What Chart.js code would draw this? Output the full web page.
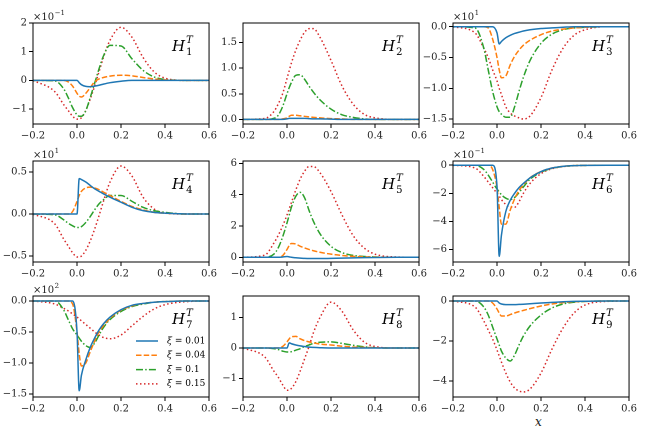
<!DOCTYPE html>
<html><head><meta charset="utf-8">
<script src="https://cdn.jsdelivr.net/npm/chart.js@4/dist/chart.umd.min.js"></script>
<style>
body{margin:0;width:664px;height:443px;background:#fff;position:relative;overflow:hidden}
canvas{position:absolute}
#xl{position:absolute;left:535px;top:415px;font:italic 12px "DejaVu Serif",serif;color:#222}
</style></head><body>
<div id="xl">x</div>
<script>
const X=[-0.2,-0.1,-0.06,-0.04,-0.02,0,0.01,0.02,0.04,0.06,0.08,0.1,0.12,0.15,0.2,0.25,0.3,0.35,0.4,0.5,0.6];
const xiLabels=["0.01","0.04","0.1","0.15"];
const H1=[[0,0,0,0,0,0,-0.08,-0.15,-0.21,-0.22,-0.2,-0.17,-0.13,-0.08,-0.03,0,0,0,0,0,0],
[0,0,0,-0.05,-0.2,-0.45,-0.55,-0.58,-0.45,-0.25,-0.05,0.05,0.1,0.15,0.18,0.16,0.1,0.05,0.02,0,0],
[0,-0.02,-0.3,-0.6,-0.95,-1.2,-1.25,-1.25,-1.05,-0.6,-0.1,0.4,0.85,1.22,1.2,0.75,0.35,0.12,0.03,0,0],
[0,-0.4,-0.85,-1.05,-1.25,-1.35,-1.35,-1.3,-1.05,-0.65,-0.2,0.3,0.8,1.4,1.85,1.5,0.8,0.3,0.08,0,0]];
const H2=[[0,0,0,0,0,0.01,0.02,0.02,0.02,0.02,0.02,0.015,0.01,0.01,0.005,0,0,0,0,0,0],
[0,0,0,0,0.01,0.03,0.06,0.08,0.08,0.07,0.06,0.05,0.04,0.03,0.015,0.01,0,0,0,0,0],
[0,0,0.02,0.08,0.25,0.5,0.62,0.72,0.86,0.87,0.78,0.65,0.53,0.38,0.2,0.09,0.04,0.01,0,0,0],
[0,0.02,0.15,0.3,0.5,0.8,0.95,1.1,1.35,1.55,1.7,1.77,1.77,1.6,1.15,0.65,0.3,0.1,0.03,0,0]];
const H3=[[0,0,0,0,0,-0.1,-0.28,-0.24,-0.18,-0.14,-0.11,-0.09,-0.07,-0.05,-0.03,-0.02,-0.01,0,0,0,0],
[0,0,0,-0.02,-0.2,-0.5,-0.7,-0.83,-0.8,-0.62,-0.48,-0.38,-0.3,-0.22,-0.13,-0.07,-0.04,-0.02,-0.01,0,0],
[0,-0.02,-0.35,-0.7,-1.05,-1.3,-1.38,-1.42,-1.47,-1.47,-1.3,-1.05,-0.82,-0.55,-0.27,-0.12,-0.05,-0.02,-0.01,0,0],
[0,-0.1,-0.35,-0.5,-0.7,-0.88,-1.0,-1.1,-1.3,-1.4,-1.45,-1.48,-1.5,-1.45,-1.15,-0.7,-0.35,-0.14,-0.05,0,0]];
const H4=[[0,0,0,0,0,0,0.42,0.41,0.38,0.34,0.3,0.27,0.24,0.2,0.14,0.08,0.04,0.02,0.01,0,0],
[0,0,0,0,0.03,0.15,0.22,0.27,0.31,0.32,0.31,0.29,0.26,0.22,0.15,0.09,0.05,0.02,0.01,0,0],
[0,-0.01,-0.07,-0.11,-0.14,-0.16,-0.16,-0.15,-0.1,-0.03,0.05,0.12,0.17,0.22,0.22,0.15,0.08,0.04,0.02,0,0],
[0,-0.12,-0.3,-0.38,-0.46,-0.51,-0.51,-0.5,-0.43,-0.32,-0.18,-0.02,0.15,0.38,0.57,0.45,0.2,0.06,0.01,0,0]];
const H5=[[0,0,0,0,0.02,0.05,0.03,0,-0.03,-0.05,-0.07,-0.08,-0.08,-0.08,-0.07,-0.05,-0.04,-0.02,-0.01,0,0],
[0,0,0,0,0.1,0.5,0.75,0.88,0.85,0.7,0.6,0.5,0.42,0.32,0.2,0.12,0.06,0.03,0.01,0,0],
[0,0,0.2,0.6,1.3,2.2,2.7,3.2,3.9,4.15,3.8,3.0,2.3,1.5,0.7,0.3,0.12,0.05,0.02,0,0],
[0,0.15,0.9,1.4,2.0,2.7,3.1,3.5,4.3,5.0,5.5,5.8,5.8,5.4,4.2,2.7,1.4,0.6,0.2,0.02,0]];
const H6=[[0,0,0,0,0,-1.5,-6.5,-5.0,-3.3,-2.5,-2.0,-1.6,-1.3,-0.9,-0.45,-0.2,-0.08,-0.03,-0.01,0,0],
[0,0,0,0,-0.3,-1.6,-3.0,-4.2,-4.2,-3.2,-2.4,-1.8,-1.4,-0.9,-0.45,-0.2,-0.08,-0.03,-0.01,0,0],
[0,0,-0.3,-0.7,-1.2,-1.7,-1.9,-2.1,-2.35,-2.45,-2.3,-1.95,-1.55,-1.0,-0.5,-0.22,-0.09,-0.03,-0.01,0,0],
[0,-0.2,-0.8,-1.2,-1.6,-2.0,-2.2,-2.45,-2.8,-3.0,-3.0,-2.6,-2.0,-1.3,-0.6,-0.25,-0.1,-0.04,-0.01,0,0]];
const H7=[[0,0,0,0,0,-0.5,-1.45,-1.2,-0.95,-0.75,-0.6,-0.47,-0.37,-0.26,-0.14,-0.07,-0.04,-0.02,-0.01,0,0],
[0,0,0,0,-0.05,-0.5,-0.85,-1.05,-1.0,-0.82,-0.65,-0.5,-0.4,-0.28,-0.15,-0.08,-0.04,-0.02,-0.01,0,0],
[0,0,-0.15,-0.3,-0.45,-0.55,-0.6,-0.65,-0.72,-0.75,-0.68,-0.55,-0.43,-0.3,-0.17,-0.09,-0.05,-0.02,-0.01,0,0],
[0,-0.05,-0.12,-0.16,-0.21,-0.26,-0.29,-0.32,-0.38,-0.44,-0.5,-0.55,-0.59,-0.61,-0.55,-0.4,-0.25,-0.13,-0.06,-0.01,0]];
const H8=[[0,0,0,0,0,0,0.17,0.14,0.1,0.07,0.05,0.03,0.02,0.01,0,0,0,0,0,0,0],
[0,0,0,0,0.05,0.2,0.3,0.37,0.38,0.3,0.24,0.2,0.17,0.13,0.1,0.06,0.03,0.02,0.01,0,0],
[0,0,-0.02,-0.05,-0.1,-0.13,-0.13,-0.12,-0.07,-0.02,0.05,0.1,0.15,0.19,0.2,0.15,0.09,0.04,0.01,0,0],
[0,-0.3,-0.75,-0.95,-1.2,-1.38,-1.37,-1.32,-1.1,-0.75,-0.35,0.05,0.5,1.0,1.5,1.2,0.6,0.2,0.05,0,0]];
const H9=[[0,0,0,0,0,0,-0.1,-0.15,-0.18,-0.18,-0.18,-0.17,-0.16,-0.14,-0.1,-0.07,-0.04,-0.02,-0.01,0,0],
[0,0,0,0,-0.1,-0.4,-0.6,-0.75,-0.75,-0.68,-0.6,-0.53,-0.47,-0.38,-0.25,-0.15,-0.08,-0.04,-0.02,0,0],
[0,0,-0.3,-0.7,-1.3,-1.9,-2.2,-2.5,-2.85,-3.0,-2.7,-2.2,-1.75,-1.25,-0.7,-0.35,-0.15,-0.06,-0.02,0,0],
[0,-0.3,-1.0,-1.45,-1.9,-2.45,-2.75,-3.05,-3.6,-4.05,-4.35,-4.5,-4.55,-4.4,-3.6,-2.4,-1.35,-0.6,-0.2,-0.02,0]];
const xTicks=[-0.2,0,0.2,0.4,0.6];
const yTicks=[[-1,0,1,2],[0,0.5,1.0,1.5],[-1.5,-1.0,-0.5,0],[-0.5,0,0.5],[0,2,4,6],[-6,-4,-2,0],[-1.5,-1.0,-0.5,0],[-1,0,1],[-4,-2,0]];

const panels=[
 {d:H1,min:-1.52,max:2.0,dec:0,exp:"−1"},
 {d:H2,min:-0.09,max:1.88,dec:1,exp:null},
 {d:H3,min:-1.58,max:0.06,dec:1,exp:"1"},
 {d:H4,min:-0.57,max:0.63,dec:1,exp:"1"},
 {d:H5,min:-0.3,max:6.15,dec:0,exp:null},
 {d:H6,min:-6.9,max:0.3,dec:0,exp:"−1"},
 {d:H7,min:-1.55,max:0.08,dec:1,exp:"2"},
 {d:H8,min:-1.6,max:1.7,dec:0,exp:null},
 {d:H9,min:-4.8,max:0.25,dec:0,exp:null}
];
const colors=["#1f77b4","#ff7f0e","#2ca02c","#d62728"];
const dashes=[[],[5.5,2.2],[7,2.2,1.5,2.2],[1.5,2.5]];
const colL=[33,243,453], rowT=[23,161,296], W=178, Hh=101;
const PADL=42,PADT=14,PADR=8,PADB=20;
const fmt=(v,d)=>{let s=Math.abs(v)<1e-9?(0).toFixed(d):v.toFixed(d);return s.replace('-','−');};

const deco={id:'deco',afterDraw(c,a,o){
 const ctx=c.ctx,ca=c.chartArea;
 ctx.save();ctx.strokeStyle='#000';ctx.lineWidth=1;ctx.strokeRect(ca.left,ca.top,ca.right-ca.left,ca.bottom-ca.top);
 ctx.fillStyle='#000';
 let lx=ca.right-37, ly=ca.top+28;
 ctx.font='italic 15px "DejaVu Serif",serif';ctx.textBaseline='alphabetic';ctx.fillText('H',lx,ly);
 let w=ctx.measureText('H').width;
 ctx.font='italic 10px "DejaVu Serif",serif';ctx.fillText('T',lx+w+1,ly-8);
 ctx.font='10px "DejaVu Serif",serif';ctx.fillText(String(o.n),lx+w+1,ly+4);
 if(o.exp){ctx.fillStyle='#222';ctx.font='10px "DejaVu Serif",serif';ctx.fillText('×10',ca.left,ca.top-3);
  let w2=ctx.measureText('×10').width;ctx.font='7px "DejaVu Serif",serif';ctx.fillText(o.exp,ca.left+w2+0.5,ca.top-8);}
 if(o.legend){
  ctx.fillStyle='#000';
  xiLabels.forEach((t,i)=>{const y=ca.top+45+i*14.3, x0=ca.left+103;
   ctx.strokeStyle=colors[i];ctx.lineWidth=1.5;ctx.setLineDash(dashes[i]);ctx.beginPath();ctx.moveTo(x0,y);ctx.lineTo(x0+22,y);ctx.stroke();
   ctx.setLineDash([]);ctx.font='italic 9px "DejaVu Serif",serif';ctx.textBaseline='middle';ctx.fillText('ξ',x0+31,y);
   ctx.font='9px "DejaVu Serif",serif';ctx.fillText(' = '+t,x0+36,y);});
 }
 ctx.restore();}};

panels.forEach((p,i)=>{
 const cv=document.createElement('canvas');
 const r=Math.floor(i/3),c=i%3;
 const w=W+PADL+PADR,h=Hh+PADT+PADB;
 cv.style.left=(colL[c]-PADL)+'px';cv.style.top=(rowT[r]-PADT)+'px';
 cv.style.width=w+'px';cv.style.height=h+'px';cv.width=w;cv.height=h;
 document.body.appendChild(cv);
 new Chart(cv,{type:'line',
  data:{datasets:p.d.map((s,k)=>({data:s.map((v,j)=>({x:X[j],y:v})),borderColor:colors[k],borderWidth:1.5,borderDash:dashes[k],pointRadius:0,cubicInterpolationMode:'monotone',fill:false}))},
  options:{responsive:false,animation:false,devicePixelRatio:2,
   layout:{padding:{top:PADT,right:PADR,left:0,bottom:0}},
   plugins:{legend:{display:false},tooltip:{enabled:false},deco:{n:i+1,exp:p.exp,legend:i===6}},
   scales:{
    x:{type:'linear',min:-0.2,max:0.6,afterBuildTicks:s=>{s.ticks=xTicks.map(v=>({value:v}));},
       afterFit:s=>{s.height=PADB;},
       grid:{drawOnChartArea:false,tickLength:4,color:'#000'},border:{color:'#000'},
       ticks:{color:'#222',font:{family:'"DejaVu Serif",serif',size:10},padding:2,maxRotation:0,callback:v=>fmt(v,1)}},
    y:{min:p.min,max:p.max,afterFit:s=>{s.width=PADL;},
       afterBuildTicks:s=>{s.ticks=yTicks[i].map(v=>({value:v}));},
       ticks:{color:'#222',font:{family:'"DejaVu Serif",serif',size:10},padding:2,callback:v=>fmt(v,p.dec)},
       grid:{drawOnChartArea:false,tickLength:4,color:'#000'},border:{color:'#000'}}
   }},
  plugins:[deco]});
});
</script></body></html>
